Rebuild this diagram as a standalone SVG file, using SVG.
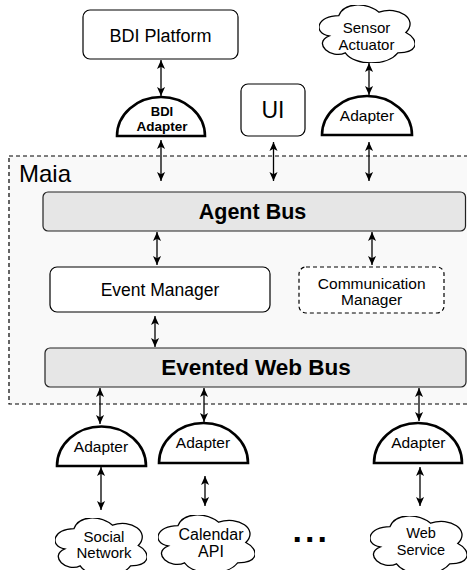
<svg xmlns="http://www.w3.org/2000/svg" width="467" height="570" viewBox="0 0 467 570">
<style>
text{font-family:"Liberation Sans",Arial,Helvetica,sans-serif;fill:#000;text-anchor:middle}
.box{fill:#fff;stroke:#000;stroke-width:1.2}
.dash{fill:#fff;stroke:#000;stroke-width:1.2;stroke-dasharray:4 3}
.bus{fill:#e6e6e6;stroke:#222;stroke-width:1.2}
.dome{fill:#fff;stroke:#000;stroke-width:2.6;stroke-linejoin:miter}
.cloud{fill:#fff;stroke:#000}
.conn line{stroke:#000;stroke-width:1.3;marker-start:url(#ah);marker-end:url(#ah)}
.b{font-weight:bold}
</style>
<defs>
<marker id="ah" viewBox="0 0 10 10" refX="10" refY="5" markerWidth="9" markerHeight="9" markerUnits="userSpaceOnUse" orient="auto-start-reverse">
<path d="M0,0.5 L10,5 L0,9.5 L2.5,5 Z" fill="#000"/>
</marker>
<symbol id="cloudShape" viewBox="6.5 9.4 89.5 85.6" preserveAspectRatio="none">
<path d="M25,25 C5,25 0,50 16,55 C0,66 18,90 31,80 C40,100 70,100 80,80 C100,80 100,60 87.5,50 C100,30 80,10 62.5,20 C50,5 30,5 25,25 Z" vector-effect="non-scaling-stroke" stroke-width="1.3"/>
</symbol>
</defs>

<g id="maia">
<rect x="9" y="156" width="462" height="248" fill="#f9f9f9" stroke="#000" stroke-width="1.2" stroke-dasharray="4 3"/>
<text x="19" y="182" font-size="24" style="text-anchor:start">Maia</text>
</g>

<g id="bdi-platform">
<rect class="box" x="83" y="10" width="155" height="49" rx="7"/>
<text x="160.5" y="41.5" font-size="18">BDI Platform</text>
</g>

<g id="bdi-adapter">
<path class="dome" d="M117,136 A44,39 0 0 1 205,136 Z"/>
<text class="b" x="162" y="116" font-size="13">BDI</text>
<text class="b" x="162" y="131" font-size="13.5">Adapter</text>
</g>

<g id="ui">
<rect class="box" x="241" y="84" width="64" height="52" rx="7"/>
<text x="273" y="118" font-size="23">UI</text>
</g>

<g id="sensor-actuator">
<use href="#cloudShape" class="cloud" x="319" y="5" width="96" height="58"/>
<text x="366.5" y="33.3" font-size="15">Sensor</text>
<text x="366.5" y="50" font-size="15">Actuator</text>
</g>

<g id="sensor-adapter">
<path class="dome" d="M322,135 A45,39 0 0 1 412,135 Z"/>
<text x="367" y="120.7" font-size="15.5">Adapter</text>
</g>

<g id="agent-bus">
<rect class="bus" x="43" y="192" width="422.5" height="39" rx="5"/>
<text class="b" x="252.5" y="218.5" font-size="21.5">Agent Bus</text>
</g>

<g id="event-manager">
<rect class="box" x="50" y="267" width="220" height="45" rx="7"/>
<text x="160" y="295.7" font-size="17.5">Event Manager</text>
</g>

<g id="communication-manager">
<rect class="dash" x="299" y="267" width="145" height="46" rx="7"/>
<text x="371.7" y="288.7" font-size="15.5">Communication</text>
<text x="371.7" y="304.7" font-size="15.5">Manager</text>
</g>

<g id="evented-web-bus">
<rect class="bus" x="45" y="348" width="421" height="39" rx="5"/>
<text class="b" x="256" y="374.5" font-size="22.5">Evented Web Bus</text>
</g>

<g id="social-adapter">
<path class="dome" d="M57,466 A44.5,39.5 0 0 1 146,466 Z"/>
<text x="101" y="451.7" font-size="15.5">Adapter</text>
</g>

<g id="calendar-adapter">
<path class="dome" d="M159,463 A44.5,40 0 0 1 248,463 Z"/>
<text x="203" y="448.3" font-size="15.5">Adapter</text>
</g>

<g id="web-adapter">
<path class="dome" d="M374,463 A44,40 0 0 1 462,463 Z"/>
<text x="418.3" y="448.3" font-size="15.5">Adapter</text>
</g>

<g id="social-network">
<use href="#cloudShape" class="cloud" x="55" y="518" width="92" height="58"/>
<text x="104" y="541.7" font-size="15">Social</text>
<text x="104" y="558.3" font-size="15">Network</text>
</g>

<g id="calendar-api">
<use href="#cloudShape" class="cloud" x="158" y="515" width="97" height="58"/>
<text x="211" y="539.5" font-size="16">Calendar</text>
<text x="211" y="557" font-size="16">API</text>
</g>

<g id="ellipsis">
<text class="b" x="292.5" y="542" font-size="34" letter-spacing="3" style="text-anchor:start">...</text>
</g>

<g id="web-service">
<use href="#cloudShape" class="cloud" x="370" y="516" width="97" height="58"/>
<text x="421" y="538.3" font-size="14.5">Web</text>
<text x="421" y="555" font-size="14.5">Service</text>
</g>

<g id="connectors" class="conn">
<line x1="161" y1="60" x2="161" y2="96"/>
<line x1="161" y1="140" x2="161" y2="181"/>
<line x1="273.5" y1="142" x2="273.5" y2="181"/>
<line x1="369" y1="63" x2="369" y2="95"/>
<line x1="369" y1="142" x2="369" y2="181"/>
<line x1="157" y1="232" x2="157" y2="265"/>
<line x1="372" y1="232" x2="372" y2="265"/>
<line x1="155" y1="316" x2="155" y2="347"/>
<line x1="100" y1="388" x2="100" y2="424"/>
<line x1="204" y1="388" x2="204" y2="422"/>
<line x1="419" y1="388" x2="419" y2="421"/>
<line x1="101" y1="467" x2="101" y2="510"/>
<line x1="205" y1="476" x2="205" y2="506"/>
<line x1="420" y1="467" x2="420" y2="506"/>
</g>
</svg>
